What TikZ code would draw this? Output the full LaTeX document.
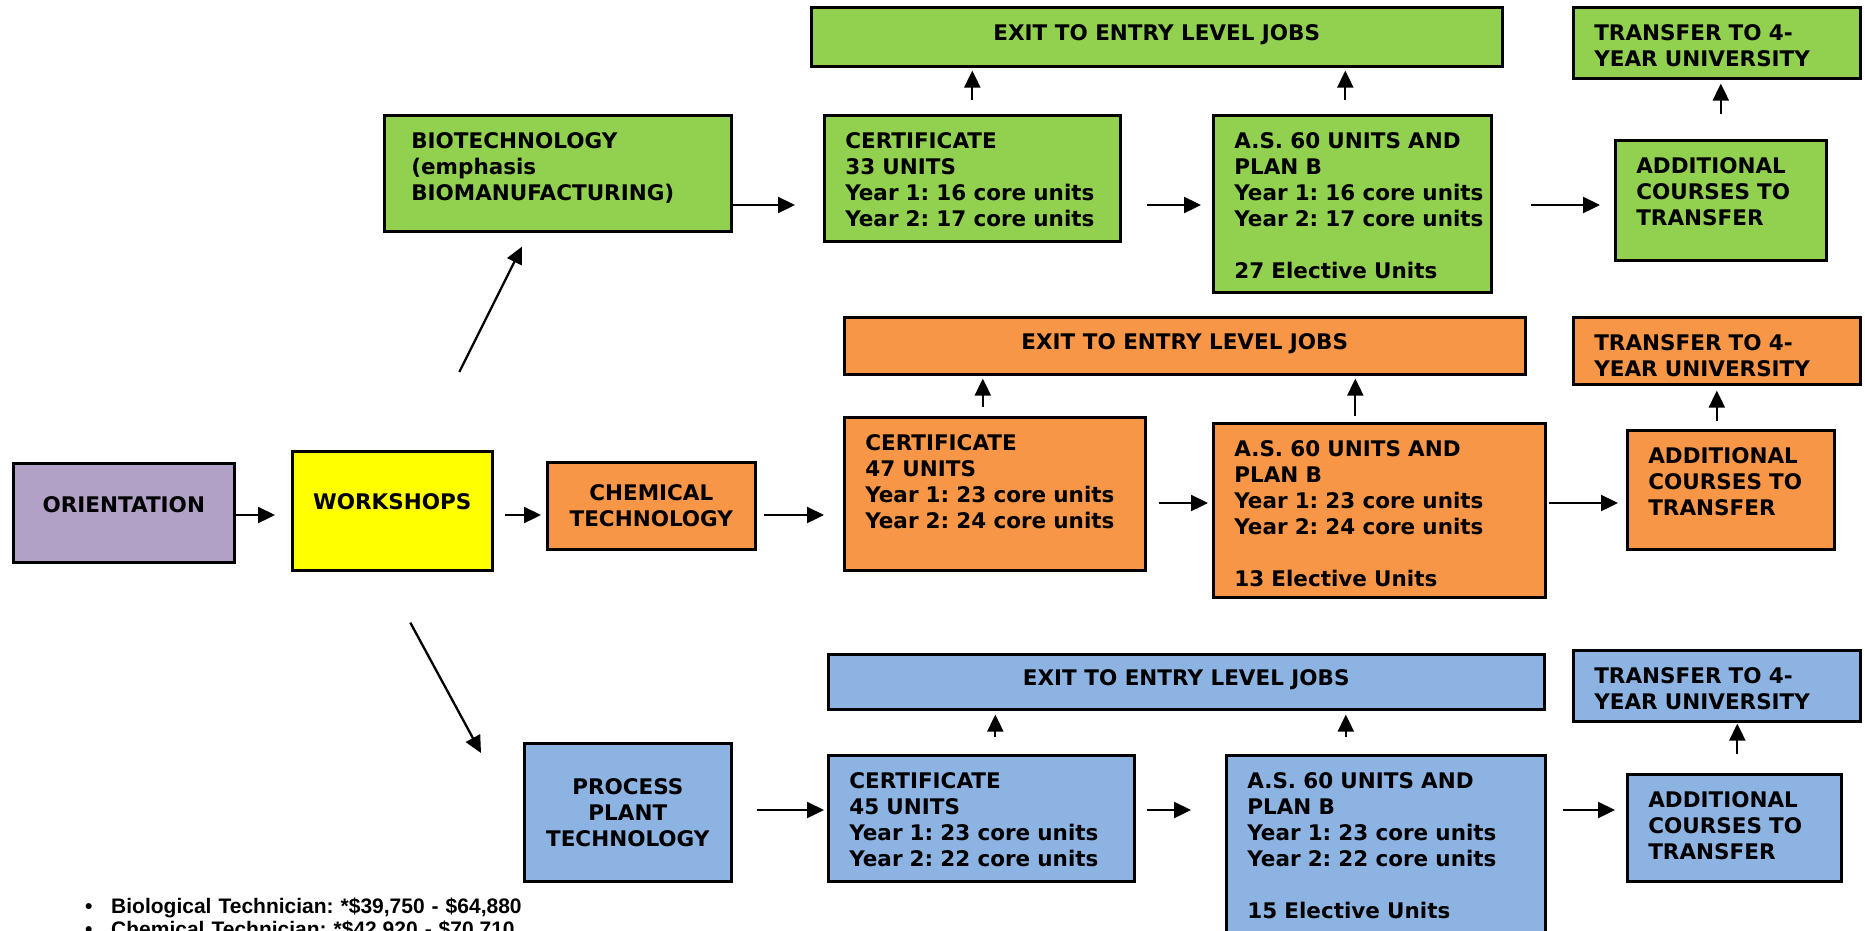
\documentclass[tikz,border=0pt]{standalone}
\usepackage{fontspec}
\usetikzlibrary{arrows.meta}
\newfontfamily\boxfamily{DejaVu Sans}
\newfontfamily\listfamily{Liberation Sans}
\frenchspacing
\definecolor{bio area}{HTML}{92D050}
\definecolor{chem area}{HTML}{F79646}
\definecolor{plant area}{HTML}{8DB3E2}
\definecolor{orient area}{HTML}{B2A1C7}
\definecolor{work area}{HTML}{FFFF00}
\tikzset{box/.style={draw=black, line width=2.6pt, anchor=north west, align=left,
        inner xsep=0pt, inner ysep=17pt, text height=16pt,
        font=\boxfamily\bfseries\fontsize{21.5}{26}\selectfont,
        execute at begin node={\leftskip=#1}},
    box/.default=21pt,
    cbox/.style={draw=black, line width=2.6pt, anchor=north west, align=center,
        inner sep=0pt, font=\boxfamily\bfseries\fontsize{21.5}{26}\selectfont},
    arr/.style={line width=2.3pt, -{Triangle[length=17pt,width=16pt]}},
    list/.style={inner sep=0pt, align=left, text width=700pt, anchor=base west,
        font=\listfamily\bfseries\fontsize{21}{23}\selectfont}}

\begin{document}
\begin{tikzpicture}[x=1pt, y=-1pt]
     \useasboundingbox (0,0) rectangle (1865,930);
     \coordinate (rowG) at (0,205);
     \coordinate (rowO) at (0,515);
     \coordinate (rowP) at (0,503);
     \coordinate (rowB) at (0,810);
     % biotechnology
     \node[cbox, fill=bio area, minimum width=691pt, minimum height=59pt, text depth=8pt] (exitG) at (810,6) {EXIT TO ENTRY LEVEL JOBS};
     \node[box, fill=bio area, text width=287pt, text depth=21pt] (transG) at (1572,6) {TRANSFER TO 4-\\YEAR UNIVERSITY};
     \node[box=27pt, fill=bio area, text width=347pt, text depth=66pt] (bioG) at (383,114) {BIOTECHNOLOGY\\(emphasis\\BIOMANUFACTURING)};
     \node[box, fill=bio area, text width=296pt, text depth=76pt] (certG) at (823,114) {CERTIFICATE\\33 UNITS\\Year 1: 16 core units\\Year 2: 17 core units};
     \node[box, fill=bio area, text width=278pt, text depth=127pt] (asG) at (1212,114) {A.S. 60 UNITS AND\\PLAN B\\Year 1: 16 core units\\Year 2: 17 core units\\[26pt]27 Elective Units};
     \node[box, fill=bio area, text width=211pt, text depth=70pt] (addG) at (1614,139) {ADDITIONAL\\COURSES TO\\TRANSFER};
     % chemical technology
     \node[cbox, fill=orient area, minimum width=221pt, minimum height=99pt, text depth=16pt] (orient) at (12,462) {ORIENTATION};
     \node[cbox, fill=work area, minimum width=200pt, minimum height=119pt, text depth=18pt] (work) at (291,450) {WORKSHOPS};
     \node[cbox, fill=chem area, minimum width=208pt, minimum height=87pt] (chem) at (546,461) {CHEMICAL\\TECHNOLOGY};
     \node[cbox, fill=chem area, minimum width=681pt, minimum height=57pt, text depth=8pt] (exitO) at (843,316) {EXIT TO ENTRY LEVEL JOBS};
     \node[box, fill=chem area, text width=287pt, text depth=17pt] (transO) at (1572,316) {TRANSFER TO 4-\\YEAR UNIVERSITY};
     \node[box, fill=chem area, text width=301pt, text depth=103pt] (certO) at (843,416) {CERTIFICATE\\47 UNITS\\Year 1: 23 core units\\Year 2: 24 core units};
     \node[box, fill=chem area, text width=332pt, text depth=124pt] (asO) at (1212,422) {A.S. 60 UNITS AND\\PLAN B\\Year 1: 23 core units\\Year 2: 24 core units\\[26pt]13 Elective Units};
     \node[box, fill=chem area, text width=207pt, text depth=69pt] (addO) at (1626,429) {ADDITIONAL\\COURSES TO\\TRANSFER};
     % process plant technology
     \node[cbox, fill=plant area, minimum width=716pt, minimum height=55pt, text depth=8pt] (exitB) at (827,653) {EXIT TO ENTRY LEVEL JOBS};
     \node[box, fill=plant area, text width=287pt, text depth=21pt] (transB) at (1572,649) {TRANSFER TO 4-\\YEAR UNIVERSITY};
     \node[cbox, fill=plant area, minimum width=207pt, minimum height=138pt] (proc) at (523,742) {PROCESS\\PLANT\\TECHNOLOGY};
     \node[box, fill=plant area, text width=306pt, text depth=76pt] (certB) at (827,754) {CERTIFICATE\\45 UNITS\\Year 1: 23 core units\\Year 2: 22 core units};
     \node[box, fill=plant area, text width=319pt, text depth=146pt] (asB) at (1225,754) {A.S. 60 UNITS AND\\PLAN B\\Year 1: 23 core units\\Year 2: 22 core units\\[26pt]15 Elective Units};
     \node[box, fill=plant area, text width=214pt, text depth=57pt] (addB) at (1626,773) {ADDITIONAL\\COURSES TO\\TRANSFER};
     % salaries
     \node[list] (pay) at (85,913) {\makebox[26pt][l]{\textbullet}Biological Technician: *\$39,750 - \$64,880\\\makebox[26pt][l]{\textbullet}Chemical Technician: *\$42,920 - \$70,710};
     % arrows
     \draw[arr] (bioG.east |- rowG) -- ([xshift=-28pt]certG.west |- rowG);
     \draw[arr] ([xshift=25pt]certG.east |- rowG) -- ([xshift=-11pt]asG.west |- rowG);
     \draw[arr] ([xshift=38pt]asG.east |- rowG) -- ([xshift=-14pt]addG.west |- rowG);
     \draw[arr, shorten <=14pt, shorten >=3pt] (certG.north) -- (certG.north |- exitG.south);
     \draw[arr, shorten <=14pt, shorten >=3pt] ([xshift=-7pt]asG.north) -- ([xshift=-7pt]asG.north |- exitG.south);
     \draw[arr, shorten <=25pt, shorten >=4pt] (addG.north) -- (addG.north |- transG.south);
     \draw[arr] (orient.east |- rowO) -- ([xshift=-16pt]work.west |- rowO);
     \draw[arr] ([xshift=11pt]work.east |- rowO) -- ([xshift=-5pt]chem.west |- rowO);
     \draw[arr] ([xshift=7pt]chem.east |- rowO) -- ([xshift=-19pt]certO.west |- rowO);
     \draw[arr] ([xshift=12pt]certO.east |- rowP) -- ([xshift=-4pt]asO.west |- rowP);
     \draw[arr] ([xshift=2pt]asO.east |- rowP) -- ([xshift=-8pt]addO.west |- rowP);
     \draw[arr, shorten <=9pt, shorten >=3pt] ([xshift=-12pt]certO.north) -- ([xshift=-12pt]certO.north |- exitO.south);
     \draw[arr, shorten <=6pt, shorten >=3pt] ([xshift=-24pt]asO.north) -- ([xshift=-24pt]asO.north |- exitO.south);
     \draw[arr, shorten <=8pt, shorten >=5pt] ([xshift=-14pt]addO.north) -- ([xshift=-14pt]addO.north |- transO.south);
     \draw[arr] ([shift={(67,-78)}]work.north) -- ([shift={(139,14)}]bioG.south west);
     \draw[arr] ([shift={(18,51)}]work.south) -- ([shift={(-42,11)}]proc.north west);
     \draw[arr] ([xshift=24pt]proc.east |- rowB) -- ([xshift=-3pt]certB.west |- rowB);
     \draw[arr] ([xshift=11pt]certB.east |- rowB) -- ([xshift=-34pt]asB.west |- rowB);
     \draw[arr] ([xshift=16pt]asB.east |- rowB) -- ([xshift=-11pt]addB.west |- rowB);
     \draw[arr, shorten <=17pt, shorten >=4pt] ([xshift=14pt]certB.north) -- ([xshift=14pt]certB.north |- exitB.south);
     \draw[arr, shorten <=17pt, shorten >=4pt] ([xshift=-40pt]asB.north) -- ([xshift=-40pt]asB.north |- exitB.south);
     \draw[arr, shorten <=19pt, shorten >=1pt] ([xshift=3pt]addB.north) -- ([xshift=3pt]addB.north |- transB.south);
\end{tikzpicture}
\end{document}
